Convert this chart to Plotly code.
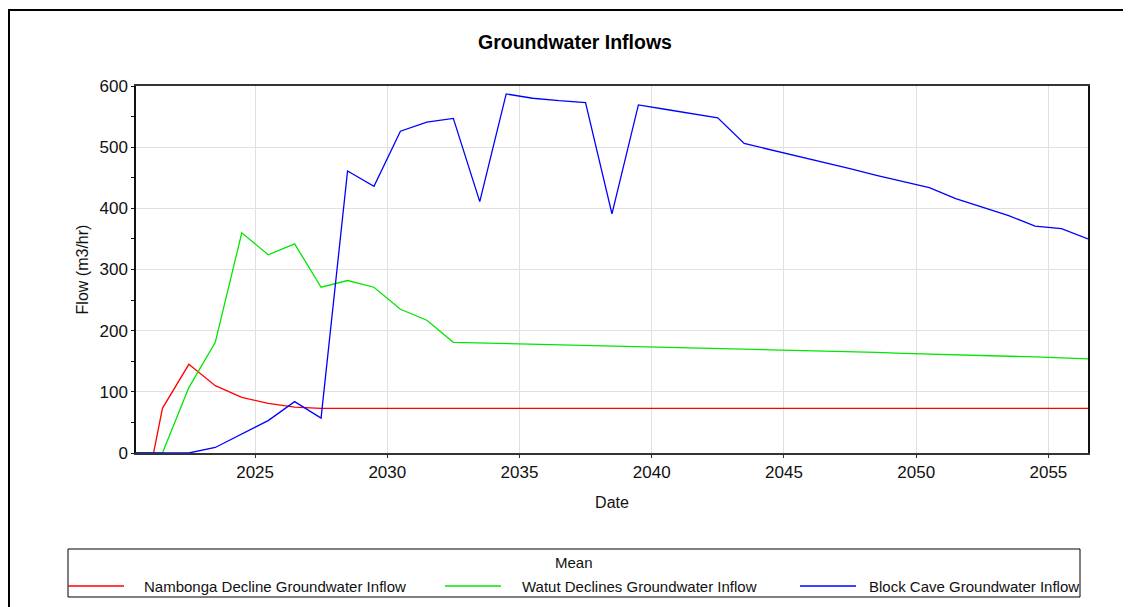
import plotly.graph_objects as go

# ---------------- data ----------------
red_dates = ["2020-07-01", "2021-03-01", "2021-07-01", "2022-07-01", "2023-07-01",
             "2024-07-01", "2025-07-01", "2026-07-01", "2027-07-01", "2056-07-01"]
red_vals = [0, 0, 73, 145, 110, 91, 81, 75, 73, 73]

green_years = list(range(2020, 2057))
green_vals = [0, 0, 107, 181, 360, 324, 342, 271, 282, 271, 235, 217, 181, 180,
              179, 178, 177.5, 176.5, 175.5, 174, 173, 172, 171, 170, 169, 167.5,
              166.5, 165.5, 164.5, 163, 162, 161, 160, 158.5, 157, 155.5, 154]
green_dates = [f"{y}-07-01" for y in green_years]

blue_years = list(range(2020, 2057))
blue_vals = [0, 0, 0, 9, 31, 53, 84, 57, 461, 436, 526, 541, 547, 411, 587, 580,
             576, 573, 391, 569, 562, 555, 548, 506, 496, 486, 475, 465, 454, 444,
             434, 416, 402, 388, 371, 367, 350]
blue_dates = [f"{y}-07-01" for y in blue_years]

series_names = ["Nambonga Decline Groundwater Inflow",
                "Watut Declines Groundwater Inflow",
                "Block Cave Groundwater Inflow"]
series_colors = ["#ff0000", "#00e600", "#0000ff"]
legend_title = "Mean"

# ---------------- layout constants ----------------
OFF = 8                      # page body margin of the html page
W, H = 1131, 607
L, R, T, B = 136 - OFF, W - (1088 - OFF), 86 - OFF, H - (453 - OFF)
PW, PH = W - L - R, H - T - B
FONT = "Liberation Sans, Arial, sans-serif"


def px_x(page_x):
    return (page_x - OFF - L) / PW


def px_y(page_y):
    return (H - B - (page_y - OFF)) / PH


fig = go.Figure()
for xs, ys, name, col in [(red_dates, red_vals, series_names[0], series_colors[0]),
                          (green_dates, green_vals, series_names[1], series_colors[1]),
                          (blue_dates, blue_vals, series_names[2], series_colors[2])]:
    fig.add_trace(go.Scatter(x=xs, y=ys, mode="lines", name=name, showlegend=False,
                             line=dict(color=col, width=1.3)))

fig.update_layout(
    width=W, height=H,
    margin=dict(l=L, r=R, t=T, b=B, autoexpand=False),
    paper_bgcolor="white", plot_bgcolor="white",
    font=dict(family=FONT, size=16, color="#111111"),
    title=dict(text="<b>Groundwater Inflows</b>", x=(575 - OFF) / W, xanchor="center",
               y=1 - (42 - OFF) / H, yanchor="middle", font=dict(size=19.5, color="black")),
    showlegend=False,
    xaxis=dict(type="date", range=["2020-07-01", "2056-07-01"],
               tick0="2025-01-01", dtick="M60", tickformat="%Y",
               showgrid=True, gridcolor="#e0e0e0", gridwidth=1,
               showline=True, linecolor="#333333", linewidth=1.5, mirror=True,
               ticks="outside", ticklen=3, tickcolor="#333333",
               tickfont=dict(size=17), zeroline=False,
               title=dict(text="Date", font=dict(size=16), standoff=16)),
    yaxis=dict(range=[0, 600], dtick=100, showgrid=True, gridcolor="#e0e0e0",
               showline=True, linecolor="#111111", linewidth=1.5, mirror=True,
               ticks="outside", ticklen=3, tickcolor="#111111",
               minor=dict(dtick=50, ticks="outside", ticklen=3, tickcolor="#111111", showgrid=False),
               tickfont=dict(size=17), zeroline=False,
               title=dict(text="Flow (m3/hr)", font=dict(size=16), standoff=7)),
)

# outer frame of the chart
fig.add_shape(type="rect", xref="paper", yref="paper",
              x0=px_x(9), x1=px_x(W + 20), y0=px_y(H + 20), y1=px_y(10),
              line=dict(color="black", width=2), fillcolor="rgba(0,0,0,0)", layer="above")

# legend box (drawn to match the reference's legend panel)
fig.add_shape(type="rect", xref="paper", yref="paper",
              x0=px_x(68), x1=px_x(1080), y0=px_y(597), y1=px_y(549),
              line=dict(color="black", width=1), fillcolor="white", layer="above")
fig.add_annotation(text=legend_title, xref="paper", yref="paper", x=px_x(574), y=px_y(562),
                   xanchor="center", yanchor="middle", showarrow=False,
                   font=dict(size=15, color="#111111"))
legend_line_x = [68, 445, 800]
legend_text_x = [142, 520, 867]
legend_row_y = 586
for name, col, lx, tx in zip(series_names, series_colors, legend_line_x, legend_text_x):
    fig.add_shape(type="line", xref="paper", yref="paper",
                  x0=px_x(lx), x1=px_x(lx + 56), y0=px_y(legend_row_y), y1=px_y(legend_row_y),
                  line=dict(color=col, width=1.3), layer="above")
    fig.add_annotation(text=name, xref="paper", yref="paper", x=px_x(tx), y=px_y(legend_row_y),
                       xanchor="left", yanchor="middle", showarrow=False,
                       font=dict(size=15, color="#111111"))

fig.write_html("out.html")
